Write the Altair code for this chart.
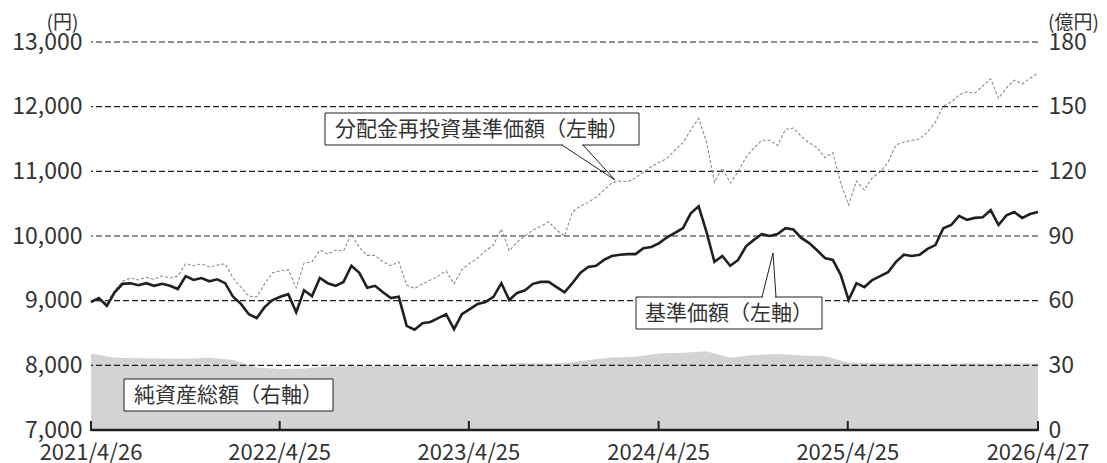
import altair as alt
import pandas as pd

START = "2021-04-26"
END = "2026-04-27"

# 基準価額 (left axis, yen)
nav = [8980, 9040, 8920, 9130, 9260, 9270, 9240, 9270, 9230, 9260,
       9230, 9180, 9380, 9320, 9350, 9300, 9330, 9270, 9060, 8950,
       8790, 8730, 8900, 9010, 9060, 9100, 8820, 9160, 9070, 9350,
       9270, 9230, 9290, 9540, 9430, 9200, 9230, 9130, 9040, 9060,
       8610, 8550, 8650, 8670, 8730, 8790, 8560, 8790, 8870, 8950,
       8980, 9060, 9270, 9010, 9120, 9160, 9260, 9290, 9290, 9210,
       9130, 9270, 9430, 9520, 9540, 9630, 9690, 9710, 9720, 9720,
       9810, 9830, 9890, 9980, 10050, 10120, 10350, 10460, 10060, 9600,
       9690, 9540, 9630, 9840, 9940, 10030, 10000, 10030, 10120, 10100,
       9970, 9890, 9780, 9660, 9630, 9400, 9010, 9270, 9210, 9320,
       9380, 9440, 9600, 9710, 9690, 9710, 9800, 9860, 10120, 10170,
       10310, 10250, 10280, 10290, 10400, 10170, 10320, 10370, 10280, 10340,
       10370]

# 分配金再投資基準価額 (left axis, yen)
reinv = [8980, 9040, 8960, 9160, 9300, 9350, 9320, 9360, 9330, 9380,
         9350, 9380, 9570, 9540, 9570, 9520, 9550, 9570, 9350, 9210,
         9070, 9060, 9260, 9430, 9460, 9480, 9200, 9580, 9600, 9780,
         9720, 9780, 9770, 10030, 9820, 9700, 9700, 9600, 9540, 9600,
         9240, 9190, 9260, 9320, 9380, 9460, 9260, 9480, 9580, 9660,
         9770, 9860, 10110, 9770, 9910, 10000, 10090, 10150, 10220, 10090,
         10000, 10370, 10460, 10520, 10600, 10710, 10820, 10850, 10840, 10900,
         10990, 11070, 11140, 11200, 11330, 11440, 11640, 11820, 11450, 10830,
         11050, 10820, 10990, 11220, 11360, 11480, 11480, 11400, 11650, 11670,
         11540, 11440, 11370, 11210, 11290, 10820, 10480, 10850, 10710, 10900,
         10990, 11140, 11410, 11450, 11480, 11500, 11610, 11760, 12010, 12070,
         12180, 12230, 12210, 12320, 12430, 12130, 12290, 12410, 12350, 12440,
         12520]

# 純資産総額 (right axis, 億円)
assets = [35.5, 33.5, 33.3, 33.2, 33.0, 33.5, 32.5, 29.0, 28.3, 28.5,
          29.5, 29.6, 29.8, 29.7, 29.5, 29.6, 29.8, 30.0, 31.0, 30.8,
          31.0, 32.5, 33.6, 34.0, 35.5, 35.8, 36.5, 33.5, 34.8, 35.2,
          34.6, 34.2, 31.2, 31.0, 30.8, 31.0, 30.6, 31.0, 30.7, 30.8,
          31.0]

tick_dates = ["2021-04-26", "2022-04-25", "2023-04-25", "2024-04-25", "2025-04-25", "2026-04-27"]
tick_labels = ["2021/4/26", "2022/4/25", "2023/4/25", "2024/4/25", "2025/4/25", "2026/4/27"]
left_ticks = [7000, 8000, 9000, 10000, 11000, 12000, 13000]
grid_vals = [8000, 9000, 10000, 11000, 12000, 13000]
right_ticks = [0, 30, 60, 90, 120, 150, 180]
labels = ["分配金再投資基準価額（左軸）", "基準価額（左軸）", "純資産総額（右軸）"]

FONT = "Noto Sans CJK JP"
TXT = "#333333"
INK = "#231f20"


def iso(ds):
    return [d.strftime("%Y-%m-%dT%H:%M:%SZ") for d in ds]


line_dates = iso(pd.date_range(START, END, periods=len(nav)))
asset_dates = iso(pd.date_range(START, END, periods=len(assets)))

df_nav = pd.DataFrame({"date": line_dates, "v": nav})
df_re = pd.DataFrame({"date": line_dates, "v": reinv})
df_as = pd.DataFrame({"date": asset_dates, "v": assets})
df_grid = pd.DataFrame({"g": grid_vals})
df_ticks = pd.DataFrame({"date": [d + "T00:00:00Z" for d in tick_dates], "lab": tick_labels})

XDOM = [START + "T00:00:00Z", END + "T00:00:00Z"]


def xenc(field="date"):
    return alt.X(field + ":T", scale=alt.Scale(type="utc", domain=XDOM), axis=None)


def yleft(field):
    return alt.Y(field + ":Q", scale=alt.Scale(domain=[7000, 13000], nice=False, zero=False), axis=None)


area = alt.Chart(df_as).mark_area(color="#d1d3d4").encode(
    x=xenc(),
    y=alt.Y("v:Q", scale=alt.Scale(domain=[0, 180], nice=False, zero=True),
            axis=alt.Axis(orient="right", values=right_ticks, format=".0f", grid=False,
                          ticks=False, domain=False, labelPadding=10,
                          title="(億円)", titleAngle=0, titleX=35, titleY=-20,
                          titleAlign="center", titleBaseline="middle")),
)

grid = alt.Chart(df_grid).mark_rule(color=INK, strokeDash=[6, 3], strokeWidth=1.2).encode(
    y=alt.Y("g:Q", scale=alt.Scale(domain=[7000, 13000], nice=False, zero=False),
            axis=alt.Axis(orient="left", values=left_ticks, format=",.0f", grid=False,
                          ticks=False, domain=False, labelPadding=9,
                          title="(円)", titleAngle=0, titleX=-29, titleY=-20,
                          titleAlign="center", titleBaseline="middle")),
)

re_line = alt.Chart(df_re).mark_line(color="#8c8c8c", strokeWidth=1.1, strokeDash=[3, 2]).encode(
    x=xenc(), y=yleft("v"))

nav_line = alt.Chart(df_nav).mark_line(color=INK, strokeWidth=2.6).encode(
    x=xenc(), y=yleft("v"))

# bottom axis line, tick marks and tick labels
base_line = alt.Chart(pd.DataFrame({"a": [0]})).mark_rule(color=INK, strokeWidth=2.5).encode(
    x=alt.value(0), x2=alt.value(947), y=alt.value(388), y2=alt.value(388))

ticks = alt.Chart(df_ticks).mark_rule(color=INK, strokeWidth=2).encode(
    x=xenc(), y=alt.value(389), y2=alt.value(379))

tick_text = alt.Chart(df_ticks).mark_text(font=FONT, fontSize=22, color=TXT,
                                          align="center", baseline="alphabetic").encode(
    x=xenc(), y=alt.value(418), text="lab:N")

one = pd.DataFrame({"a": [0]})


def box(x1, x2, y1, y2):
    return alt.Chart(one).mark_rect(fill="white", stroke=INK, strokeWidth=1).encode(
        x=alt.value(x1), x2=alt.value(x2), y=alt.value(y1), y2=alt.value(y2))


def seg(x1, y1, x2, y2, color=INK, w=1.0):
    return alt.Chart(one).mark_rule(color=color, strokeWidth=w).encode(
        x=alt.value(x1), x2=alt.value(x2), y=alt.value(y1), y2=alt.value(y2))


def label(x, y, t):
    return alt.Chart(one).mark_text(font=FONT, fontSize=21, color=TXT,
                                    align="center", baseline="middle").encode(
        x=alt.value(x), y=alt.value(y), text=alt.value(t))


annots = [
    box(234, 548, 71, 103),
    seg(472, 103, 491, 103, "white", 2),
    seg(471, 103, 524, 138),
    seg(492, 103, 524, 138),
    label(391, 88, labels[0]),
    box(545, 731, 255, 287),
    seg(672, 255, 684, 255, "white", 2),
    seg(671, 255, 682, 211),
    seg(685, 255, 682, 211),
    label(638, 272, labels[1]),
    box(33, 242, 337, 369),
    label(137.5, 354, labels[2]),
]

chart = alt.layer(area, grid, re_line, nav_line, base_line, ticks, tick_text, *annots).resolve_scale(
    y="independent"
).properties(
    width=947, height=388,
    padding={"left": 83, "top": 34, "right": 60, "bottom": 45},
    autosize=alt.AutoSizeParams(type="none"),
).configure_view(stroke=None).configure_axis(
    labelFont=FONT, labelFontSize=23, labelColor=TXT, labelFontWeight="normal",
    titleFont=FONT, titleFontSize=19, titleColor=TXT, titleFontWeight="normal",
)

chart.save("out.html", embed_options={"renderer": "svg", "actions": False})
